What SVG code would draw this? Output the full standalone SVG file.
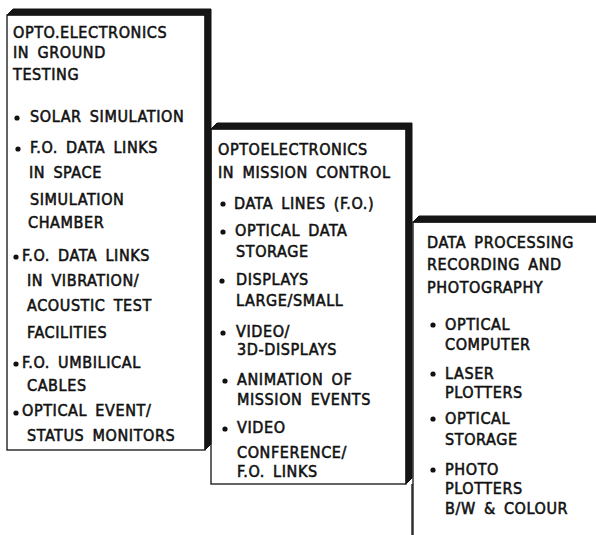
<svg xmlns="http://www.w3.org/2000/svg" width="596" height="535" viewBox="0 0 596 535">
<defs>
<style>
.face{fill:#fff;stroke:#111;stroke-width:1.3}
.ext{fill:#151515;stroke:#151515;stroke-width:1}
.line{fill:none;stroke:#111;stroke-width:1.3}
text{font-family:"DejaVu Sans Condensed","DejaVu Sans",sans-serif;font-size:16px;letter-spacing:0.6px;word-spacing:3px;fill:#111;stroke:#111;stroke-width:0.55}
.b{fill:#111}
</style>
</defs>
<rect width="596" height="535" fill="#fff"/>
<g id="connectors">
<line class="line" x1="412" y1="484" x2="412" y2="535"/>
</g>
<g id="box3">
<path class="face" d="M413 222 H600 V540 H413 Z"/>
<path class="ext" d="M413 222 L419 216 H600 V222 Z"/>
<text x="427" y="248">DATA PROCESSING</text>
<text x="427" y="270">RECORDING AND</text>
<text x="427" y="293">PHOTOGRAPHY</text>
<circle class="b" cx="433" cy="325" r="2.6"/><text x="445" y="330">OPTICAL</text>
<text x="445" y="350">COMPUTER</text>
<circle class="b" cx="433" cy="374" r="2.6"/><text x="445" y="379">LASER</text>
<text x="445" y="398">PLOTTERS</text>
<circle class="b" cx="433" cy="419" r="2.6"/><text x="445" y="424">OPTICAL</text>
<text x="445" y="445">STORAGE</text>
<circle class="b" cx="433" cy="470" r="2.6"/><text x="445" y="475">PHOTO</text>
<text x="445" y="494">PLOTTERS</text>
<text x="445" y="514">B/W &amp; COLOUR</text>
</g>
<g id="box2">
<rect class="face" x="211" y="129" width="195" height="355"/>
<path class="ext" d="M211 129 L217 123 H412 V478 L406 484 V129 Z"/>
<text x="218" y="155">OPTOELECTRONICS</text>
<text x="218" y="178">IN MISSION CONTROL</text>
<circle class="b" cx="223" cy="204" r="2.6"/><text x="234" y="209">DATA LINES (F.O.)</text>
<circle class="b" cx="223" cy="232" r="2.6"/><text x="235" y="236">OPTICAL DATA</text>
<text x="236" y="257">STORAGE</text>
<circle class="b" cx="222" cy="281" r="2.6"/><text x="236" y="285">DISPLAYS</text>
<text x="236" y="306">LARGE/SMALL</text>
<circle class="b" cx="223" cy="333" r="2.6"/><text x="236" y="337">VIDEO/</text>
<text x="237" y="355">3D-DISPLAYS</text>
<circle class="b" cx="225" cy="381" r="2.6"/><text x="237" y="385">ANIMATION OF</text>
<text x="237" y="405">MISSION EVENTS</text>
<circle class="b" cx="225" cy="429" r="2.6"/><text x="237" y="433">VIDEO</text>
<text x="237" y="458">CONFERENCE/</text>
<text x="237" y="477">F.O. LINKS</text>
</g>
<g id="box1">
<rect class="face" x="7" y="15" width="198" height="435"/>
<path class="ext" d="M7 15 L13 9 H211 V444 L205 450 V15 Z"/>
<text x="13" y="38">OPTO.ELECTRONICS</text>
<text x="13" y="58">IN GROUND</text>
<text x="13" y="80">TESTING</text>
<circle class="b" cx="17" cy="118" r="2.6"/><text x="30" y="122">SOLAR SIMULATION</text>
<circle class="b" cx="18" cy="149" r="2.6"/><text x="30" y="153">F.O. DATA LINKS</text>
<text x="29" y="178">IN SPACE</text>
<text x="30" y="205">SIMULATION</text>
<text x="28" y="228">CHAMBER</text>
<circle class="b" cx="16" cy="257" r="2.6"/><text x="22" y="261">F.O. DATA LINKS</text>
<text x="27" y="286">IN VIBRATION/</text>
<text x="27" y="311">ACOUSTIC TEST</text>
<text x="27" y="338">FACILITIES</text>
<circle class="b" cx="16" cy="364" r="2.6"/><text x="22" y="368">F.O. UMBILICAL</text>
<text x="27" y="391">CABLES</text>
<circle class="b" cx="16" cy="413" r="2.6"/><text x="22" y="416">OPTICAL EVENT/</text>
<text x="27" y="441">STATUS MONITORS</text>
</g>
</svg>
